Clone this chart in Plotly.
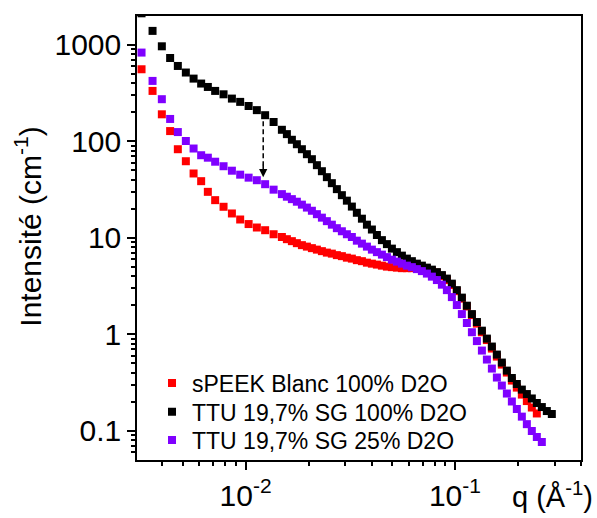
import math
import plotly.graph_objects as go

# q values (Å^-1), shared by all three series
q = [0.003185, 0.003595, 0.003982, 0.004362, 0.004748, 0.005185, 0.005645, 0.006136,
     0.006604, 0.007157, 0.007849, 0.008604, 0.009424, 0.01034, 0.01132, 0.01240, 0.01361,
     0.01491, 0.01575, 0.01664, 0.01758, 0.01858, 0.01963, 0.02074, 0.02191, 0.02315,
     0.02445, 0.02583, 0.02729, 0.02884, 0.03047, 0.03219, 0.03400, 0.03595, 0.03798,
     0.04012, 0.04239, 0.04479, 0.04732, 0.04999, 0.05282, 0.05580, 0.05895, 0.06228,
     0.06580, 0.06952, 0.07345, 0.07760, 0.08198, 0.08662, 0.09151, 0.09668, 0.1021,
     0.1079, 0.1140, 0.1205, 0.1273, 0.1345, 0.1421, 0.1501, 0.1586, 0.1675, 0.1770,
     0.1870, 0.1975, 0.2087, 0.2205, 0.2329, 0.2461, 0.2600, 0.2747, 0.2902]

red_I = [560, 334, 191, 128, 83.0, 62.3, 46.5, 38.7, 30.0, 24.6, 21.0, 17.9, 15.5, 13.9,
         12.8, 12.0, 10.9,
         10.2, 9.69, 9.24, 8.81, 8.40, 8.11, 7.82, 7.55, 7.28, 7.03, 6.86, 6.62, 6.46, 6.23,
         6.09, 5.87, 5.73, 5.53, 5.40, 5.28, 5.15, 5.03, 4.97, 4.91, 4.85, 4.85, 4.85, 4.85,
         4.85, 4.79, 4.57, 4.36, 4.01, 3.65, 3.24, 2.80, 2.34, 1.94, 1.58, 1.29, 1.05, 0.871,
         0.711, 0.587, 0.485, 0.401, 0.331, 0.280, 0.237, 0.203, 0.174, 0.151]

black_I = [2130, 1400, 969, 733, 606, 518, 448, 398, 367, 334, 308, 278, 257, 233, 211,
           187, 159,
           132, 119, 104, 93.5, 83.0, 73.7, 65.4, 56.7, 49.1, 42.6, 36.9, 32.0, 27.7, 24.3,
           21.1, 18.2, 15.8, 13.7, 12.2, 10.7, 9.47, 8.61, 7.73, 7.11, 6.54, 6.09, 5.73, 5.40,
           5.15, 4.91, 4.68, 4.41, 4.11, 3.78, 3.35, 2.87, 2.40, 1.98, 1.62, 1.34, 1.09, 0.902,
           0.746, 0.616, 0.509, 0.420, 0.352, 0.305, 0.267, 0.240, 0.216, 0.194, 0.176, 0.160,
           0.149]

purple_I = [834, 424, 274, 171, 125, 101, 84.4, 71.9, 67.8, 61.6, 55.3, 49.7, 45.2, 42.1,
            39.6, 36.0, 31.6,
            28.4, 26.7, 25.2, 23.7, 22.1, 20.6, 19.1, 17.6, 16.2, 14.9, 13.7, 12.6, 11.7, 10.9,
            10.2, 9.35, 8.71, 8.11, 7.55, 7.11, 6.70, 6.31, 5.94, 5.67, 5.40, 5.15, 4.97, 4.74,
            4.52, 4.26, 3.96, 3.65, 3.27, 2.87, 2.43, 2.01, 1.62, 1.31, 1.05, 0.850, 0.678,
            0.547, 0.441, 0.356, 0.294, 0.243, 0.201, 0.168, 0.140, 0.117, 0.0993, 0.0861,
            0.0764]

names = ["sPEEK Blanc 100% D2O", "TTU 19,7% SG 100% D2O", "TTU 19,7% SG 25% D2O"]
colors = ["#FF0000", "#000000", "#7F00FF"]

# arrow (q, I_start, I_end)
arrow_q = 0.01214
arrow_I = [162, 56.7]
arrow_tip_I = 42.6

x_tickvals = [0.01, 0.1]
x_ticktext = ["10<sup>-2</sup>", "10<sup>-1</sup>"]
x_minor = [0.003, 0.004, 0.005, 0.006, 0.007, 0.008, 0.009,
           0.02, 0.03, 0.04, 0.05, 0.06, 0.07, 0.08, 0.09, 0.2, 0.3, 0.4]
y_tickvals = [0.1, 1, 10, 100, 1000]
y_ticktext = ["0.1", "1", "10", "100", "1000"]
y_minor = [0.06, 0.07, 0.08, 0.09] + [m * 10.0 ** e for e in range(-1, 3) for m in range(2, 10)]

FONT = "Liberation Sans, Arial, sans-serif"
legend_ids = ["legend", "legend2", "legend3"]
legend_rows = [0.1733, 0.1087, 0.0450]

fig = go.Figure()
for i, (name, I) in enumerate(zip(names, [red_I, black_I, purple_I])):
    fig.add_trace(go.Scatter(
        x=q[:len(I)], y=I, mode="markers", name=name, legend=legend_ids[i],
        marker=dict(symbol="square", size=8, color=colors[i], line=dict(width=0)),
    ))

fig.add_trace(go.Scatter(
    x=[arrow_q, arrow_q], y=arrow_I, mode="lines", showlegend=False,
    line=dict(color="black", width=1.5, dash="5px,3px"), hoverinfo="skip",
))
fig.add_annotation(
    x=math.log10(arrow_q), y=math.log10(arrow_tip_I), xref="x", yref="y",
    ax=0, ay=-14, showarrow=True, arrowhead=2, arrowsize=1.1, arrowwidth=1.5,
    arrowcolor="black", text="",
)

axis_common = dict(
    type="log", showline=True, linecolor="black", linewidth=1.5, mirror=True,
    ticks="outside", ticklen=8, tickwidth=1.5, tickcolor="black",
    showgrid=False, zeroline=False, tickmode="array", automargin=False,
    tickfont=dict(family=FONT, size=30, color="black"),
)

fig.update_xaxes(
    **axis_common,
    range=[math.log10(0.00303), math.log10(0.4)],
    tickvals=x_tickvals, ticktext=x_ticktext,
    minor=dict(tickmode="array", tickvals=x_minor, ticks="outside", ticklen=4.5,
               tickwidth=1.5, tickcolor="black", showgrid=False),
)
fig.update_yaxes(
    **axis_common,
    range=[-1.3036, 3.3005],
    tickvals=y_tickvals, ticktext=y_ticktext,
    minor=dict(tickmode="array", tickvals=y_minor, ticks="outside", ticklen=4.5,
               tickwidth=1.5, tickcolor="black", showgrid=False),
)

fig.add_annotation(
    text="Intensité (cm<sup>-1</sup>)", textangle=-90, xref="paper", yref="paper",
    x=-0.2455, y=0.5255, xanchor="center", yanchor="middle", showarrow=False,
    font=dict(family=FONT, size=30, color="black"),
)
fig.add_annotation(
    text="q (Å<sup>-1</sup>)", xref="paper", yref="paper",
    x=1.0315, y=-0.0788, xanchor="right", yanchor="middle", showarrow=False,
    font=dict(family=FONT, size=29, color="black"),
)

legend_style = dict(xanchor="left", yanchor="middle", bgcolor="rgba(0,0,0,0)",
                    borderwidth=0, font=dict(family=FONT, size=23, color="black"))
layout_legends = {lid: dict(x=0.0338, y=yr, **legend_style)
                  for lid, yr in zip(legend_ids, legend_rows)}

fig.update_layout(
    template="none",
    width=597, height=518,
    margin=dict(l=137, r=16, t=16, b=58),
    paper_bgcolor="white", plot_bgcolor="white",
    showlegend=True,
    **layout_legends,
)

fig.write_html("out.html", config={"displayModeBar": False},
               post_script="document.body.style.margin='0px';")
